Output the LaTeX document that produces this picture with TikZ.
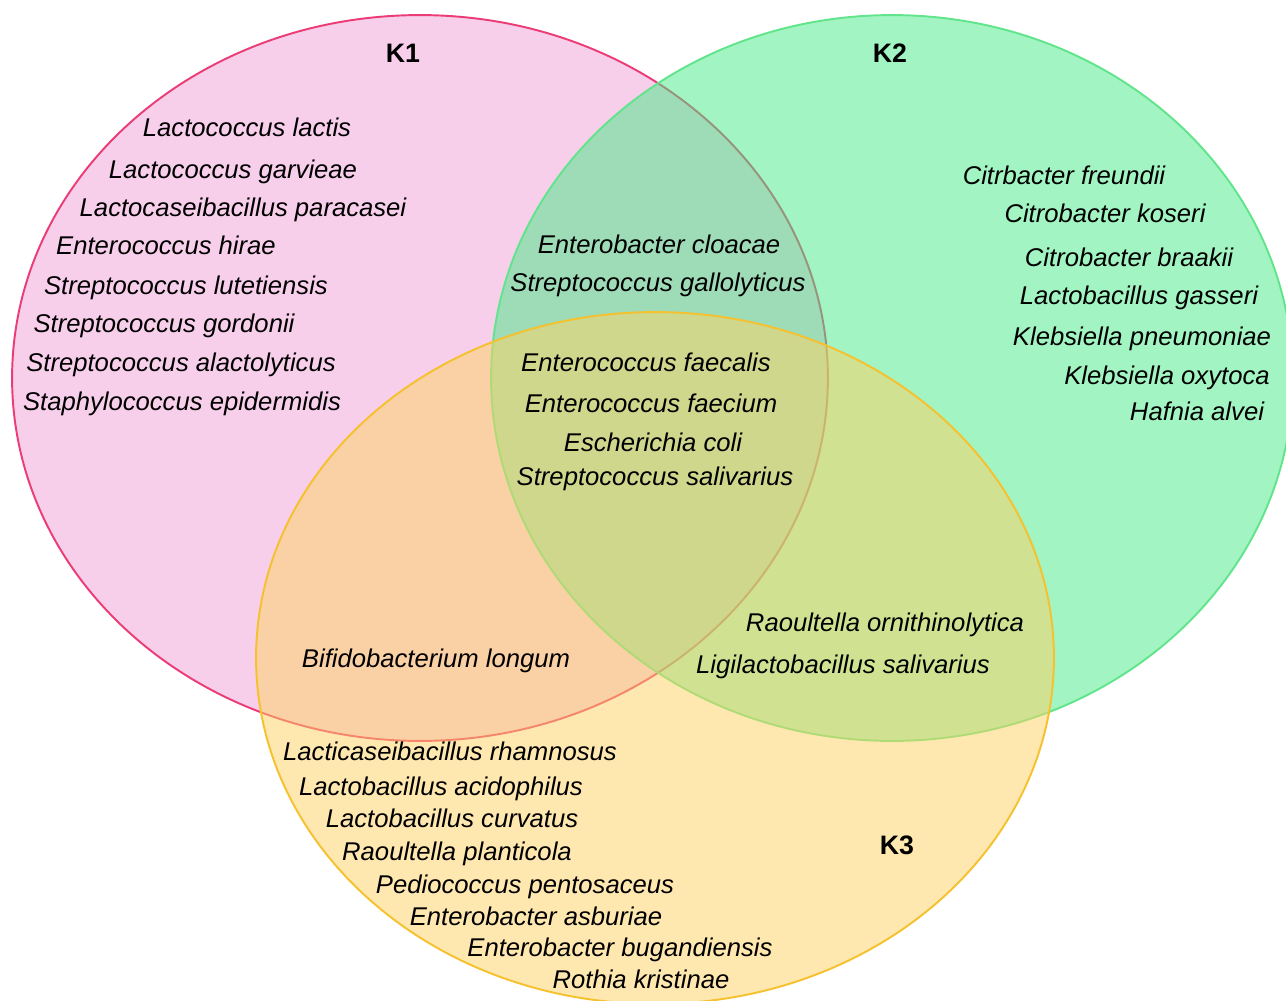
\documentclass[tikz,border=0pt]{standalone}
\usepackage{fontspec}
\setmainfont{Liberation Sans}
\usepackage{tikz}
\usetikzlibrary{positioning}
\usepackage{xcolor}
\definecolor{konecolor}{RGB}{239, 159, 215}
\definecolor{ktwocolor}{RGB}{69, 235, 133}
\definecolor{kthreecolor}{RGB}{255, 209, 97}
\definecolor{koneline}{RGB}{235, 60, 118}
\definecolor{ktwoline}{RGB}{98, 228, 140}
\definecolor{kthreeline}{RGB}{245, 193, 47}

\begin{document}
\begin{tikzpicture}[
    x=0.02cm, y=-0.02cm,
    setbox/.style={line width=1.1pt, fill opacity=0.5},
    species/.style={font=\fontsize{14.6}{17}\selectfont\itshape, inner sep=0pt, text height=0.72em, text depth=0.21em, yshift=-0.09cm},
    setname/.style={font=\fontsize{15.2}{18}\selectfont\bfseries, inner sep=0pt, text height=0.72em, text depth=0.21em, yshift=-0.09cm}
]
    \useasboundingbox (0,0) rectangle (1286,1001);
    \clip (0,0) rectangle (1286,1001);

    % Sets
    \draw[setbox, draw=koneline, fill=konecolor] (420,378) ellipse [x radius=8.16cm, y radius=7.26cm];
    \draw[setbox, draw=ktwoline, fill=ktwocolor] (892,378) ellipse [x radius=8.02cm, y radius=7.26cm];
    \draw[setbox, draw=kthreeline, fill=kthreecolor] (655,658) ellipse [x radius=7.98cm, y radius=6.92cm];

    % Set names
    \node[setname] (k1) at (403,54) {K1};
    \node[setname] (k2) at (890,54) {K2};
    \node[setname] (k3) at (897,846) {K3};

    % K1 only
    \node[species] (a1) at (247,128) {Lactococcus lactis};
    \node[species] (a2) at (233,170) {Lactococcus garvieae};
    \node[species] (a3) at (243,208) {Lactocaseibacillus paracasei};
    \node[species] (a4) at (166,246) {Enterococcus hirae};
    \node[species] (a5) at (186,286) {Streptococcus lutetiensis};
    \node[species] (a6) at (164,324) {Streptococcus gordonii};
    \node[species] (a7) at (181,363) {Streptococcus alactolyticus};
    \node[species] (a8) at (182,402) {Staphylococcus epidermidis};

    % K1 and K2
    \node[species] (ab1) at (659,245) {Enterobacter cloacae};
    \node[species] (ab2) at (658,283) {Streptococcus gallolyticus};

    % K1, K2 and K3
    \node[species] (abc1) at (646,363) {Enterococcus faecalis};
    \node[species] (abc2) at (651,404) {Enterococcus faecium};
    \node[species] (abc3) at (653,443) {Escherichia coli};
    \node[species] (abc4) at (655,477) {Streptococcus salivarius};

    % K2 only
    \node[species] (b1) at (1064,176) {Citrbacter freundii};
    \node[species] (b2) at (1105,214) {Citrobacter koseri};
    \node[species] (b3) at (1129,258) {Citrobacter braakii};
    \node[species] (b4) at (1139,296) {Lactobacillus gasseri};
    \node[species] (b5) at (1142,337) {Klebsiella pneumoniae};
    \node[species] (b6) at (1167,376) {Klebsiella oxytoca};
    \node[species] (b7) at (1197,412) {Hafnia alvei};

    % K2 and K3
    \node[species] (bc1) at (885,623) {Raoultella ornithinolytica};
    \node[species] (bc2) at (843,665) {Ligilactobacillus salivarius};

    % K1 and K3
    \node[species] (ac1) at (436,659) {Bifidobacterium longum};

    % K3 only
    \node[species] (c1) at (450,752) {Lacticaseibacillus rhamnosus};
    \node[species] (c2) at (441,787) {Lactobacillus acidophilus};
    \node[species] (c3) at (452,819) {Lactobacillus curvatus};
    \node[species] (c4) at (457,852) {Raoultella planticola};
    \node[species] (c5) at (525,885) {Pediococcus pentosaceus};
    \node[species] (c6) at (536,917) {Enterobacter asburiae};
    \node[species] (c7) at (620,948) {Enterobacter bugandiensis};
    \node[species] (c8) at (641,980) {Rothia kristinae};
\end{tikzpicture}
\end{document}
